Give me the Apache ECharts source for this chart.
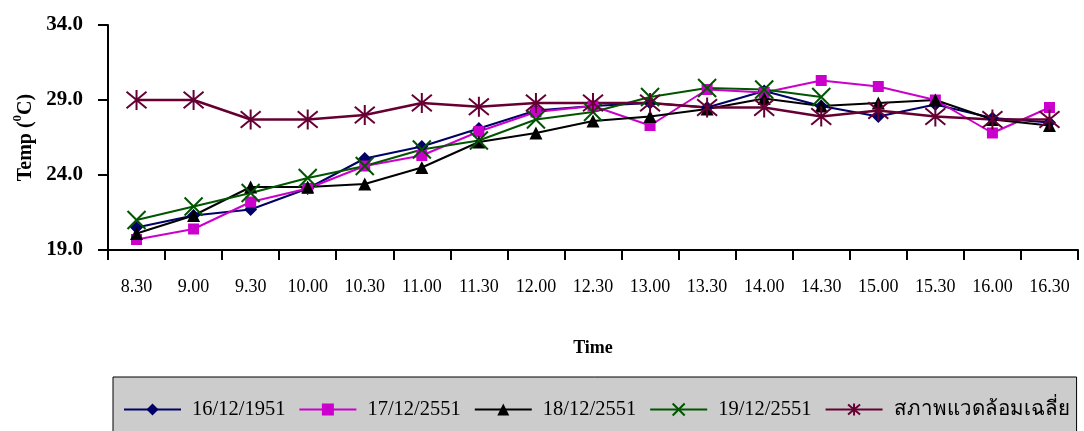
<!DOCTYPE html>
<html>
<head>
<meta charset="utf-8">
<script src="https://cdn.jsdelivr.net/npm/echarts@6/dist/echarts.min.js"></script>
<style>
html,body{margin:0;padding:0;background:#fff;}
#chart{width:1084px;height:431px;}
</style>
</head>
<body>
<div id="chart"></div>
<script>
const categories = ['8.30','9.00','9.30','10.00','10.30','11.00','11.30','12.00','12.30','13.00','13.30','14.00','14.30','15.00','15.30','16.00','16.30'];
const seriesNames = ['16/12/1951','17/12/2551','18/12/2551','19/12/2551','สภาพแวดล้อมเฉลี่ย'];
const d16 = [20.5, 21.3, 21.7, 23.1, 25.1, 25.9, 27.1, 28.3, 28.6, 28.8, 28.5, 29.6, 28.6, 27.9, 28.7, 27.8, 27.5];
const d17 = [19.7, 20.4, 22.2, 23.1, 24.6, 25.3, 26.9, 28.2, 28.6, 27.3, 29.7, 29.5, 30.3, 29.9, 29.0, 26.8, 28.5];
const d18 = [20.1, 21.3, 23.2, 23.2, 23.4, 24.5, 26.2, 26.8, 27.6, 27.9, 28.4, 29.1, 28.6, 28.8, 29.0, 27.7, 27.3];
const d19 = [21.0, 21.9, 22.8, 23.8, 24.6, 25.7, 26.3, 27.7, 28.2, 29.2, 29.8, 29.7, 29.2, null, null, null, null];
const dAvg = [29.0, 29.0, 27.7, 27.7, 28.0, 28.8, 28.55, 28.8, 28.8, 28.8, 28.5, 28.5, 27.9, 28.3, 27.9, 27.7, 27.7];
const yTicks = {min: 19, max: 34, interval: 5};

const serif = 'Liberation Serif, DejaVu Serif, serif';
const xPath = 'path://M0,0L10,10M10,0L0,10';
const starPath = 'path://M0,0L10,10M10,0L0,10M5,-1L5,11';

function mk(name, data, color, symbol, size, stroke, lw) {
  return {
    name: name, type: 'line', data: data, symbol: symbol, symbolSize: size,
    connectNulls: false,
    lineStyle: {color: color, width: lw},
    itemStyle: stroke ? {color: color, borderColor: color, borderWidth: 2} : {color: color, borderWidth: 0},
    emphasis: {disabled: true}
  };
}

const chart = echarts.init(document.getElementById('chart'), null, {renderer: 'canvas'});
chart.setOption({
  animation: false,
  backgroundColor: '#ffffff',
  grid: {left: 108, top: 25, right: 6, bottom: 181, containLabel: false},
  xAxis: {
    type: 'category', data: categories, boundaryGap: true,
    axisLine: {lineStyle: {color: '#000', width: 2}},
    axisTick: {show: true, length: 10, lineStyle: {color: '#000', width: 2}},
    axisLabel: {margin: 28, fontFamily: serif, fontSize: 18, color: '#000'},
    name: 'Time', nameLocation: 'middle', nameGap: 89,
    nameTextStyle: {fontFamily: serif, fontSize: 18, fontWeight: 'bold', color: '#000'}
  },
  yAxis: {
    type: 'value', min: yTicks.min, max: yTicks.max, interval: yTicks.interval,
    axisLine: {show: true, lineStyle: {color: '#000', width: 2}},
    axisTick: {show: true, length: 10, lineStyle: {color: '#000', width: 2}},
    splitLine: {show: false},
    axisLabel: {margin: 25, fontFamily: serif, fontSize: 21, fontWeight: 'bold', color: '#000',
      formatter: v => v.toFixed(1)},
    name: '{a|Temp (}{s|0}{a|C)}', nameLocation: 'middle', nameRotate: 90, nameGap: 64,
    nameTextStyle: {
      rich: {
        a: {fontFamily: serif, fontSize: 20, fontWeight: 'bold', color: '#000', lineHeight: 24, verticalAlign: 'bottom'},
        s: {fontFamily: serif, fontSize: 13, fontWeight: 'bold', color: '#000', lineHeight: 24, verticalAlign: 'top'}
      }
    }
  },
  legend: {
    left: 113, top: 377, width: 966,
    padding: [22, 7, 30, 10],
    backgroundColor: '#cccccc', borderColor: '#000', borderWidth: 1,
    itemWidth: 57, itemHeight: 15, itemGap: 13,
    textStyle: {fontFamily: serif, fontSize: 20.5, color: '#000', padding: [0, 0, 0, 6]},
    data: seriesNames
  },
  series: [
    mk(seriesNames[0], d16, '#000066', 'diamond', 13, false, 2),
    mk(seriesNames[1], d17, '#cc00cc', 'rect', 11, false, 2),
    mk(seriesNames[2], d18, '#000000', 'triangle', 13, false, 2),
    mk(seriesNames[3], d19, '#005500', xPath, 18, true, 2),
    mk(seriesNames[4], dAvg, '#660033', starPath, 20, true, 2.5)
  ]
});
</script>
</body>
</html>
